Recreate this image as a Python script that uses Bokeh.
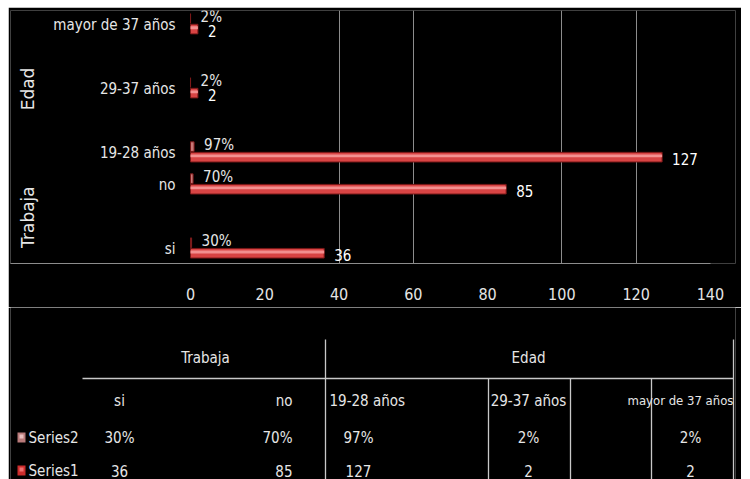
import math
from bokeh.plotting import figure
from bokeh.models import FactorRange, Range1d, FixedTicker, ColumnDataSource
from bokeh.transform import dodge
from bokeh.layouts import column
from bokeh.embed import file_html
from bokeh.resources import INLINE
from bokeh.core.properties import value

# ---------------- data ----------------
groups = ["Trabaja", "Trabaja", "Edad", "Edad", "Edad"]
categories = ["si", "no", "19-28 años", "29-37 años", "mayor de 37 años"]
series1 = [36, 85, 127, 2, 2]
series2 = [0.30, 0.70, 0.97, 0.02, 0.02]
series2_labels = ["30%", "70%", "97%", "2%", "2%"]
series_names = ["Series2", "Series1"]
group_names = ["Trabaja", "Edad"]
x_ticks = [0, 20, 40, 60, 80, 100, 120, 140]
grid_ticks = [40, 60, 100, 120]

FONT = "'DejaVu Sans Condensed', 'Liberation Sans', sans-serif"
TXT = "#e6e6e6"
GRID = "#8c8c8c"

factors = list(zip(groups, categories))

# ---------------- bar chart ----------------
X_START, X_END, X_AXIS_END = -48.47, 146.76, 140
yr = FactorRange(*factors, group_padding=-0.5, range_padding=-0.275,
                 range_padding_units="absolute")
p = figure(width=733, height=300, x_range=Range1d(X_START, X_END), y_range=yr,
           output_backend="svg", toolbar_location=None, y_axis_location=None,
           background_fill_color="black", border_fill_color="black",
           min_border_left=2, min_border_right=6, min_border_top=3,
           min_border_bottom=44, outline_line_color=None)

p.xaxis.ticker = FixedTicker(ticks=x_ticks)
p.xaxis.bounds = (X_START, X_AXIS_END)
p.xaxis.major_tick_line_color = None
p.xaxis.minor_tick_line_color = None
p.xaxis.major_tick_out = 0
p.xaxis.axis_line_color = GRID
p.xaxis.major_label_text_color = TXT
p.xaxis.major_label_text_font = FONT
p.xaxis.major_label_text_font_size = "16px"
p.xaxis.major_label_standoff = 24
p.xgrid.ticker = FixedTicker(ticks=grid_ticks)
p.xgrid.grid_line_color = GRID
p.ygrid.visible = False

src = ColumnDataSource(dict(cat=factors, s1=series1, s2=series2,
                            lab1=[str(v) for v in series1], lab2=series2_labels,
                            name=categories))

# Series1 bars
p.hbar(y=dodge("cat", -0.065, range=yr), left=0, right="s1", height=0.15,
       source=src, fill_color="#d84444", line_color="#7a1818", line_width=1)
p.hbar(y=dodge("cat", -0.045, range=yr), left=0, right="s1", height=0.045,
       source=src, fill_color="#f39090", line_color=None)
# Series2 bars
p.hbar(y=dodge("cat", 0.1, range=yr), left=0, right="s2", height=0.15,
       source=src, fill_color="#c87878", line_color="#7a1818", line_width=1)

# value labels
p.text(x="s1", y=dodge("cat", -0.09, range=yr), text="lab1", source=src,
       x_offset=10, text_align="left", text_baseline="middle",
       text_color="white", text_font=value(FONT), text_font_size="15px")
p.text(x="s2", y=dodge("cat", 0.125, range=yr), text="lab2", source=src,
       x_offset=10, text_align="left", text_baseline="middle",
       text_color=TXT, text_font=value(FONT), text_font_size="15px")

# category labels
p.text(x=0, y="cat", text="name", source=src, x_offset=-15,
       text_align="right", text_baseline="middle", text_color=TXT,
       text_font=value(FONT), text_font_size="15px")
# group labels
gsrc = ColumnDataSource(dict(g=group_names, t=group_names))
p.text(x=0, y="g", text="t", source=gsrc, x_offset=-162, angle=math.pi / 2,
       text_align="center", text_baseline="middle", text_color=TXT,
       text_font=value("DejaVu Sans"), text_font_size="17px")

# ---------------- data table ----------------
t = figure(width=733, height=172, x_range=Range1d(2, 727), y_range=Range1d(172, 0),
           output_backend="svg", toolbar_location=None,
           x_axis_location=None, y_axis_location=None,
           background_fill_color="black", border_fill_color="black",
           min_border_left=2, min_border_right=6, min_border_top=0,
           min_border_bottom=0, outline_line_color=None)
t.xgrid.visible = False
t.ygrid.visible = False

# layout of the table (positions in px)
row_y = {"group": 50, "cat": 93, "Series2": 130, "Series1": 163}
col_x = [111, 284, 350, 520, 682]
col_align = ["center", "right", "center", "center", "center"]
head_x = [111, 284, 321, 520, 619]
head_align = ["center", "right", "left", "center", "left"]
head_size = ["15px", "15px", "15px", "15px", "13px"]
group_x = [197, 520]
LINE = "#c8c8c8"

t.segment(x0=[74], y0=[71], x1=[725], y1=[71], line_color=LINE, line_width=1.3)
t.segment(x0=[317, 480, 562, 643, 725], y0=[32, 71, 71, 71, 32],
          x1=[317, 480, 562, 643, 725], y1=[172] * 5, line_color=LINE, line_width=1.3)

def tt(xs, ys, texts, align, size="15px", color=TXT):
    t.text(x=xs, y=ys, text=texts, text_align=align, text_baseline="middle",
           text_color=color, text_font=value(FONT), text_font_size=size)

tt(group_x, [row_y["group"]] * 2, group_names, "center")
for i in range(len(categories)):
    tt([head_x[i]], [row_y["cat"]], [categories[i]], head_align[i], head_size[i])
    tt([col_x[i]], [row_y["Series2"]], [series2_labels[i]], col_align[i])
    tt([col_x[i]], [row_y["Series1"]], [str(series1[i])], col_align[i])

# legend keys
t.rect(x=[13, 13], y=[row_y["Series2"], row_y["Series1"]], width=8, height=10,
       fill_color=["#b87a7a", "#cc2c2c"], line_color=None)
t.rect(x=[13, 13], y=[row_y["Series2"] - 1, row_y["Series1"] - 1], width=4, height=4,
       fill_color=["#e8c0c0", "#ee7070"], line_color=None)
tt([20, 20], [row_y["Series2"], row_y["Series1"]], series_names, "left")

layout = column(p, t, spacing=0, margin=(7, 0, 0, 8))
open("out.html", "w").write(file_html(layout, INLINE))
